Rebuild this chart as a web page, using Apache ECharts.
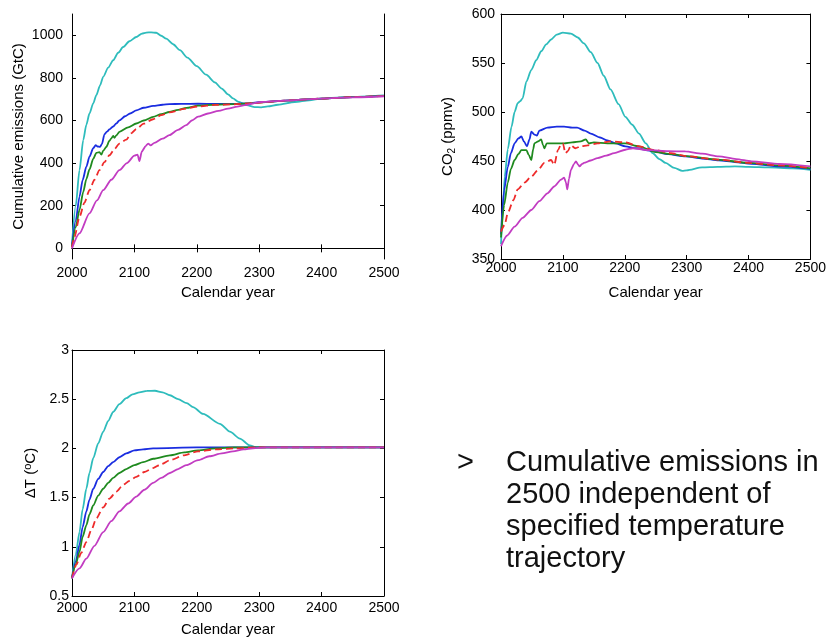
<!DOCTYPE html>
<html>
<head>
<meta charset="utf-8">
<title>Temperature-constrained emission pathways</title>
<script src="https://cdn.jsdelivr.net/npm/echarts@6/dist/echarts.min.js"></script>
<style>
  html, body { margin: 0; padding: 0; background: #ffffff; }
  #chart { width: 829px; height: 638px; }
</style>
</head>
<body>
<div id="chart"></div>
<script>
// ---- Tick values ----
const yearTicks = [2000, 2100, 2200, 2300, 2400, 2500];
const emisTicks = [0, 200, 400, 600, 800, 1000];
const co2Ticks = [350, 400, 450, 500, 550, 600];
const dtTicks = [0.5, 1, 1.5, 2, 2.5, 3];

// ---- Cumulative emissions (GtC), [year, value] ----
const emisCyan = [[2000,20],[2006,200],[2012,367],[2018,508],[2023,580],[2028,633],[2034,680],[2039,719],[2045,765],[2050,805],[2058,848],[2066,883],[2074,918],[2082,945],[2092,972],[2103,992],[2112,1008],[2119,1013],[2127,1014],[2135,1012],[2143,998],[2151,984],[2162,958],[2173,930],[2185,895],[2200,855],[2215,815],[2229,779],[2240,750],[2250,723],[2258,704],[2266,689],[2280,672],[2293,663],[2303,662],[2314,666],[2330,674],[2357,687],[2380,695],[2400,703],[2450,711],[2500,718]];
const emisBlue = [[2000,10],[2006,130],[2012,242],[2017,320],[2023,383],[2028,430],[2034,470],[2038,484],[2041,478],[2045,476],[2048,490],[2052,535],[2056,548],[2060,558],[2066,572],[2071,586],[2076,601],[2085,620],[2093,633],[2103,648],[2115,660],[2130,669],[2145,674],[2156,677],[2175,678],[2202,679],[2230,678],[2260,678],[2280,680],[2300,686],[2350,695],[2400,703],[2450,710],[2500,716]];
const emisGreen = [[2000,5],[2006,100],[2012,180],[2018,265],[2023,325],[2028,370],[2034,420],[2039,448],[2044,452],[2047,440],[2050,458],[2055,476],[2060,505],[2063,516],[2066,528],[2068,519],[2071,530],[2076,547],[2090,568],[2103,586],[2115,600],[2130,617],[2143,630],[2156,640],[2170,650],[2183,659],[2202,670],[2230,675],[2260,677],[2290,682],[2320,689],[2350,695],[2400,703],[2450,710],[2500,716]];
const emisRed = [[2000,5],[2004,54],[2012,148],[2020,215],[2028,273],[2036,322],[2044,367],[2052,405],[2060,437],[2068,466],[2076,492],[2087,510],[2095,540],[2103,560],[2115,585],[2130,606],[2143,625],[2156,638],[2180,655],[2202,666],[2230,673],[2260,676],[2290,682],[2320,689],[2350,695],[2400,703],[2450,710],[2500,715]];
const emisMagenta = [[2000,0],[2012,70],[2028,164],[2040,225],[2050,273],[2063,322],[2076,367],[2088,400],[2100,435],[2105,440],[2108,410],[2112,455],[2118,480],[2122,492],[2126,483],[2132,495],[2145,515],[2156,531],[2170,556],[2183,578],[2192,600],[2202,618],[2218,633],[2235,645],[2250,656],[2265,665],[2277,672],[2290,680],[2303,687],[2350,695],[2400,703],[2450,709],[2500,714]];

// ---- Atmospheric CO2 (ppmv), [year, value] ----
const co2Cyan = [[2000,365],[2003,400],[2006,434],[2011,462],[2017,485],[2022,500],[2027,509],[2031,511],[2035,514],[2041,531],[2049,543],[2057,553],[2065,562],[2073,569],[2081,574],[2090,579],[2100,581],[2113,580],[2124,576],[2134,570],[2145,561],[2156,550],[2166,537],[2177,523],[2190,508],[2201,495],[2212,487],[2223,478],[2234,468],[2245,458],[2256,452],[2266,448],[2280,443],[2293,440],[2300,440.5],[2325,443.5],[2350,444],[2378,444.5],[2400,444],[2432,443.5],[2470,442.5],[2500,441]];
const co2Blue = [[2000,375],[2005,420],[2011,444],[2016,458],[2022,468],[2028,473],[2033,475],[2037,470],[2042,465],[2046,472],[2049,480],[2054,477],[2058,476],[2062,481],[2075,484],[2090,485],[2102,485],[2115,484],[2123,484],[2135,481],[2145,478],[2160,474],[2172,471],[2185,468],[2201,465],[2218,463],[2245,460],[2270,457],[2298,454.7],[2325,452.5],[2352,450.6],[2378,449],[2405,447.2],[2450,444.5],[2500,442]];
const co2Green = [[2000,372],[2005,405],[2011,428],[2016,442],[2022,451],[2028,457],[2033,461],[2041,461],[2045,456],[2049,451],[2052,462],[2054,468],[2060,470],[2065,472],[2068,466],[2070,463],[2074,468],[2085,468],[2102,468],[2115,469],[2129,470],[2137,472],[2142,468],[2150,469],[2172,468],[2201,468],[2223,465],[2250,459],[2275,457],[2300,455],[2350,451.5],[2400,448],[2450,445.5],[2500,442.5]];
const co2Red = [[2000,378],[2006,385],[2011,397],[2020,410],[2027,421],[2038,428],[2049,434],[2060,441],[2070,448],[2081,451],[2086,446],[2092,461],[2097,467],[2100,468],[2104,458],[2108,460],[2113,466],[2120,463],[2129,465],[2140,466],[2156,468],[2177,470],[2201,469],[2223,465],[2250,461],[2275,458],[2298,455],[2350,451.5],[2405,447.8],[2450,445.5],[2500,443]];
const co2Magenta = [[2000,363],[2010,374],[2022,383],[2035,392],[2049,400],[2062,409],[2075,417],[2086,424],[2097,431],[2102,433],[2105,428],[2107,421],[2110,432],[2113,441],[2118,447],[2121,449.6],[2125,446],[2127,444.5],[2131,447],[2134,448],[2145,450.5],[2156,453],[2170,455.5],[2183,458],[2201,461.5],[2213,463],[2240,461],[2270,460],[2298,459.8],[2325,457.5],[2352,454.7],[2380,452],[2405,449.6],[2450,447],[2500,444.5]];

// ---- Temperature change (deg C), [year, value] ----
const dtCyan = [[2000,0.68],[2006,0.92],[2012,1.15],[2017,1.38],[2023,1.59],[2028,1.75],[2034,1.90],[2042,2.05],[2050,2.17],[2058,2.28],[2066,2.37],[2076,2.45],[2087,2.51],[2097,2.55],[2108,2.57],[2120,2.585],[2133,2.586],[2145,2.57],[2157,2.54],[2170,2.50],[2184,2.46],[2194,2.42],[2210,2.35],[2237,2.25],[2253,2.17],[2269,2.10],[2285,2.03],[2295,2.01],[2350,2.01],[2400,2.01],[2450,2.01],[2500,2.01]];
const dtBlue = [[2000,0.68],[2006,0.85],[2012,1.02],[2017,1.20],[2023,1.36],[2028,1.48],[2034,1.59],[2042,1.69],[2050,1.76],[2058,1.82],[2066,1.86],[2076,1.91],[2087,1.95],[2100,1.98],[2114,1.99],[2130,2.0],[2200,2.01],[2300,2.01],[2400,2.01],[2500,2.01]];
const dtGreen = [[2000,0.68],[2006,0.82],[2012,0.95],[2017,1.10],[2023,1.22],[2028,1.33],[2034,1.42],[2042,1.52],[2050,1.59],[2058,1.65],[2066,1.70],[2076,1.75],[2087,1.79],[2100,1.83],[2114,1.86],[2130,1.895],[2157,1.93],[2180,1.96],[2202,1.98],[2230,2.0],[2260,2.01],[2400,2.01],[2500,2.01]];
const dtRed = [[2000,0.68],[2007,0.82],[2015,0.94],[2023,1.05],[2031,1.17],[2039,1.29],[2050,1.40],[2060,1.49],[2071,1.56],[2082,1.63],[2092,1.67],[2103,1.71],[2116,1.76],[2130,1.80],[2143,1.84],[2157,1.88],[2180,1.93],[2202,1.97],[2230,1.99],[2260,2.0],[2300,2.01],[2400,2.01],[2500,2.01]];
const dtMagenta = [[2000,0.68],[2012,0.78],[2023,0.88],[2036,1.01],[2050,1.15],[2063,1.26],[2076,1.36],[2090,1.44],[2103,1.51],[2116,1.58],[2130,1.65],[2143,1.70],[2157,1.75],[2170,1.79],[2183,1.83],[2202,1.88],[2220,1.92],[2240,1.95],[2258,1.97],[2275,1.99],[2290,2.0],[2310,2.01],[2400,2.01],[2500,2.01]];

// ---- Styling ----
const FONT = "'Liberation Sans', Arial, Helvetica, sans-serif";
const INK = '#000000';
const COLORS = { cyan: '#2ebcbc', blue: '#1a2de0', green: '#1f8a1f', red: '#ee2b2b', magenta: '#c23cc2' };
const plain = function (v) { return String(v); };

const grids = [
  { left: 72, top: 14, width: 312, height: 245 },
  { left: 501, top: 14, width: 311, height: 245 },
  { left: 72, top: 350, width: 312, height: 246 }
];

function xAxesFor(gi, labelMargin) {
  const base = {
    type: 'value', gridIndex: gi, min: 2000, max: 2500,
    axisLine: { show: true, lineStyle: { color: INK, width: 1 } },
    axisTick: { show: true, inside: true, length: 4, customValues: yearTicks, lineStyle: { color: INK } },
    splitLine: { show: false }
  };
  return [
    Object.assign({}, base, {
      position: 'bottom',
      axisLabel: { show: true, customValues: yearTicks, formatter: plain, margin: labelMargin, color: INK, fontSize: 14, fontFamily: FONT, showMinLabel: true, showMaxLabel: true },
      name: 'Calendar year', nameLocation: 'middle', nameGap: 26,
      nameTextStyle: { color: INK, fontSize: 15, fontFamily: FONT }
    }),
    Object.assign({}, base, { position: 'top', axisLabel: { show: false } })
  ];
}

function yAxesFor(gi, min, max, ticks, labelMargin, name, nameGap, rich) {
  const base = {
    type: 'value', gridIndex: gi, min: min, max: max,
    axisLine: { show: true, lineStyle: { color: INK, width: 1 } },
    axisTick: { show: true, inside: true, length: 4, customValues: ticks, lineStyle: { color: INK } },
    splitLine: { show: false }
  };
  const ts = { color: INK, fontSize: 15, fontFamily: FONT };
  if (rich) ts.rich = rich;
  return [
    Object.assign({}, base, {
      position: 'left',
      axisLabel: { show: true, customValues: ticks, formatter: plain, margin: labelMargin, color: INK, fontSize: 14, fontFamily: FONT, showMinLabel: true, showMaxLabel: true },
      name: name, nameLocation: 'middle', nameRotate: 90, nameGap: nameGap,
      nameTextStyle: ts
    }),
    Object.assign({}, base, { position: 'right', axisLabel: { show: false } })
  ];
}

const co2Rich = {
  m: { fontSize: 15, fontFamily: FONT, color: INK, lineHeight: 18 },
  s: { fontSize: 10, fontFamily: FONT, color: INK, lineHeight: 8, verticalAlign: 'bottom' }
};
const dtRich = {
  m: { fontSize: 15, fontFamily: FONT, color: INK, lineHeight: 18 },
  p: { fontSize: 11, fontFamily: FONT, color: INK, lineHeight: 8, verticalAlign: 'top' }
};

const xAxis = [].concat(xAxesFor(0, 7), xAxesFor(1, 2), xAxesFor(2, 5));
const yAxis = [].concat(
  yAxesFor(0, -50, 1100, emisTicks, 9, 'Cumulative emissions (GtC)', 46),
  yAxesFor(1, 350, 600, co2Ticks, 6, '{m|CO}{s|2}{m| (ppmv)}', 44, co2Rich),
  yAxesFor(2, 0.5, 3, dtTicks, 3, '{m|ΔT (}{p|o}{m|C)}', 32, dtRich)
);

function line(data, color, gi, dashed) {
  return {
    type: 'line', data: data, xAxisIndex: gi * 2, yAxisIndex: gi * 2,
    showSymbol: false, symbol: 'none', smooth: 0.25, smoothMonotone: 'x',
    lineStyle: { color: color, width: 1.8, type: dashed ? [7, 4] : 'solid' },
    silent: true, z: 2
  };
}

const panels = [
  [emisCyan, emisBlue, emisGreen, emisRed, emisMagenta],
  [co2Cyan, co2Blue, co2Green, co2Red, co2Magenta],
  [dtCyan, dtBlue, dtGreen, dtRed, dtMagenta]
];
const order = [
  [COLORS.cyan, false], [COLORS.blue, false], [COLORS.green, false], [COLORS.red, true], [COLORS.magenta, false]
];
const series = [];
panels.forEach(function (set, gi) {
  set.forEach(function (d, k) { series.push(line(d, order[k][0], gi, order[k][1])); });
});

const chart = echarts.init(document.getElementById('chart'), null, { renderer: 'canvas' });
chart.setOption({
  animation: false,
  backgroundColor: '#ffffff',
  grid: grids,
  xAxis: xAxis,
  yAxis: yAxis,
  series: series,
  graphic: [
    { type: 'text', x: 457, y: 447, style: { text: '>', font: '29px ' + FONT, fill: '#111111', lineHeight: 32, verticalAlign: 'top' } },
    { type: 'text', x: 506, y: 447, style: { text: 'Cumulative emissions in\n2500 independent of\nspecified temperature\ntrajectory', font: '29px ' + FONT, fill: '#111111', lineHeight: 32, verticalAlign: 'top' } }
  ]
});
</script>
</body>
</html>
